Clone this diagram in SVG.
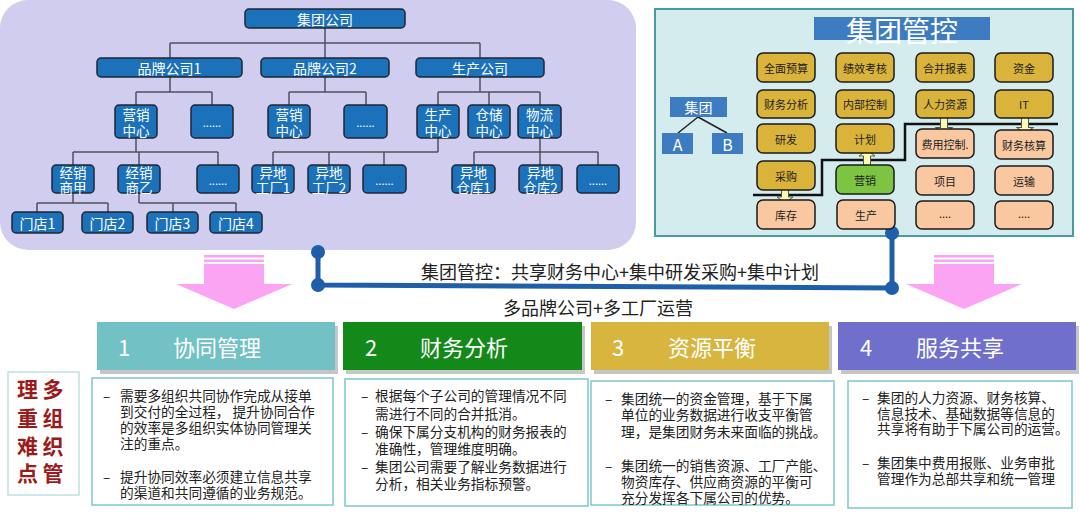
<svg xmlns="http://www.w3.org/2000/svg" width="1080" height="514" viewBox="0 0 1080 514">
<style>
text{font-family:"Noto Sans CJK SC","Noto Sans",sans-serif;}
.n rect{fill:#1b72bb;stroke:#1e2733;stroke-width:1.5;}
.n text{fill:#fff;font-size:14px;text-anchor:middle;dominant-baseline:central;}
.n text.t{font-size:13.5px;}
.n text.d{font-size:11px;}
.c{stroke:#4c5060;stroke-width:1.5;fill:none;}
.k rect{stroke:#1a1a1a;stroke-width:1.5;}
.k text{font-size:11px;fill:#222;text-anchor:middle;dominant-baseline:central;}
.gd rect{fill:#dab33b;}
.pc rect{fill:#f9c8a1;}
.gr rect{fill:#7cc442;}
.sb rect{fill:#3d7cc1;}
.sb text{fill:#fff;text-anchor:middle;dominant-baseline:central;}
.hd text{fill:#fff;font-size:22px;dominant-baseline:central;}
.sh{fill:#c6c6c6;}
.bd rect{fill:#fff;stroke:#7cc8cc;stroke-width:1.5;}
.bd text{font-size:13.7px;fill:#222;dominant-baseline:central;}
.mid{font-size:18px;fill:#222;text-anchor:middle;dominant-baseline:central;}
.pk{fill:#fca4f4;}
.bl{stroke:#1f5ea8;stroke-width:5;fill:none;}
.dot{fill:#1f5ea8;}
.da{fill:#fdfdb0;stroke:#555;stroke-width:1;}
</style>
<defs>
<path id="dbl" d="M0,-11 L8,-5 L3.5,-5 L3.5,5 L8,5 L0,11 L-8,5 L-3.5,5 L-3.5,-5 L-8,-5 Z"/>
</defs>

<!-- panels -->
<rect x="0" y="0" width="636" height="250" rx="28" fill="#d0cdef"/>
<rect x="655" y="9" width="418" height="227" fill="#d5ecef" stroke="#4a9ba0" stroke-width="2"/>

<!-- connectors -->
<g id="connectors">
<path class="c" d="M325 28V43M170 43H480M170 43V58M325 43V58M480 43V58
M170 77V92M136 92H212M136 92V105M212 92V105
M325 77V92M289 92H366M289 92V105M366 92V105
M480 77V92M438 92H540M438 92V105M489 92V105M540 92V105
M136 138V152M73 152H218M73 152V165M139 152V165M218 152V165
M438 138V152M273 152H438M273 152V165M329 152V165M384 152V165
M540 138V165M474 152H598M474 152V165M598 152V165
M73 193V203M37 203H108M37 203V212M108 203V212
M139 193V203M139 203H236M173 203V212M236 203V212"/>
<path d="M698 117L678 133M698 117L727 133" stroke="#222" stroke-width="1.5" fill="none"/>
<polyline points="753,195 822,195 822,160 905,160 905,124 1058,124" fill="none" stroke="#111" stroke-width="2.5"/>
<use href="#dbl" class="da" transform="translate(785,192)"/>
<use href="#dbl" class="da" transform="translate(867,161)"/>
<use href="#dbl" class="da" transform="translate(944,122) scale(1,1.1)"/>
<use href="#dbl" class="da" transform="translate(1025,122) scale(1,1.1)"/>
<path class="bl" d="M318 252V285L892 288V233"/>
<circle class="dot" cx="318" cy="252" r="7"/>
<circle class="dot" cx="318" cy="285" r="7"/>
<circle class="dot" cx="892" cy="288" r="7"/>
<circle class="dot" cx="892" cy="233" r="7"/>
</g>

<!-- org chart nodes -->
<g id="n-jtgs" class="n"><rect x="245" y="9" width="160" height="19" rx="4"/><text x="325" y="18.5">集团公司</text></g>
<g id="n-pp1" class="n"><rect x="97" y="58" width="145" height="19" rx="4"/><text x="169.5" y="67.5">品牌公司1</text></g>
<g id="n-pp2" class="n"><rect x="261" y="58" width="128" height="19" rx="4"/><text x="325" y="67.5">品牌公司2</text></g>
<g id="n-scgs" class="n"><rect x="416" y="58" width="128" height="19" rx="4"/><text x="480" y="67.5">生产公司</text></g>

<g id="n-yx1" class="n"><rect x="115" y="105" width="42" height="33" rx="4"/><text class="t" x="136" y="114">营销<tspan x="136" dy="15.5">中心</tspan></text></g>
<g id="n-d1" class="n"><rect x="191" y="105" width="42" height="33" rx="4"/><text class="d" x="212" y="122">......</text></g>
<g id="n-yx2" class="n"><rect x="268" y="105" width="42" height="33" rx="4"/><text class="t" x="289" y="114">营销<tspan x="289" dy="15.5">中心</tspan></text></g>
<g id="n-d2" class="n"><rect x="344" y="105" width="43" height="33" rx="4"/><text class="d" x="365.5" y="122">......</text></g>
<g id="n-sczx" class="n"><rect x="417" y="105" width="42" height="33" rx="4"/><text class="t" x="438" y="114">生产<tspan x="438" dy="15.5">中心</tspan></text></g>
<g id="n-cczx" class="n"><rect x="468" y="105" width="42" height="33" rx="4"/><text class="t" x="489" y="114">仓储<tspan x="489" dy="15.5">中心</tspan></text></g>
<g id="n-wlzx" class="n"><rect x="518" y="105" width="43" height="33" rx="4"/><text class="t" x="539.5" y="114">物流<tspan x="539.5" dy="15.5">中心</tspan></text></g>

<g id="n-jxj" class="n"><rect x="52" y="165" width="42" height="28" rx="4"/><text class="t" x="73" y="172">经销<tspan x="73" dy="15">商甲</tspan></text></g>
<g id="n-jxy" class="n"><rect x="118" y="165" width="42" height="28" rx="4"/><text class="t" x="139" y="172">经销<tspan x="139" dy="15">商乙</tspan></text></g>
<g id="n-d3" class="n"><rect x="197" y="165" width="42" height="28" rx="4"/><text class="d" x="218" y="180">......</text></g>
<g id="n-gc1" class="n"><rect x="252" y="165" width="42" height="28" rx="4"/><text class="t" x="273" y="172">异地<tspan x="273" dy="15">工厂1</tspan></text></g>
<g id="n-gc2" class="n"><rect x="308" y="165" width="42" height="28" rx="4"/><text class="t" x="329" y="172">异地<tspan x="329" dy="15">工厂2</tspan></text></g>
<g id="n-d4" class="n"><rect x="363" y="165" width="43" height="28" rx="4"/><text class="d" x="384.5" y="180">......</text></g>
<g id="n-ck1" class="n"><rect x="452" y="165" width="43" height="28" rx="4"/><text class="t" x="473.5" y="172">异地<tspan x="473.5" dy="15">仓库1</tspan></text></g>
<g id="n-ck2" class="n"><rect x="519" y="165" width="43" height="28" rx="4"/><text class="t" x="540.5" y="172">异地<tspan x="540.5" dy="15">仓库2</tspan></text></g>
<g id="n-d5" class="n"><rect x="577" y="165" width="42" height="28" rx="4"/><text class="d" x="598" y="180">......</text></g>

<g id="n-md1" class="n"><rect x="12" y="212" width="51" height="21" rx="4"/><text x="37.5" y="222.5">门店1</text></g>
<g id="n-md2" class="n"><rect x="82" y="212" width="51" height="21" rx="4"/><text x="107.5" y="222.5">门店2</text></g>
<g id="n-md3" class="n"><rect x="147" y="212" width="51" height="21" rx="4"/><text x="172.5" y="222.5">门店3</text></g>
<g id="n-md4" class="n"><rect x="210" y="212" width="52" height="21" rx="4"/><text x="236" y="222.5">门店4</text></g>

<!-- right panel -->
<g id="n-title" class="sb"><rect x="814" y="17" width="176" height="23"/><text x="902" y="30" font-size="28">集团管控</text></g>
<g id="n-jt" class="sb"><rect x="670" y="97" width="57" height="20"/><text x="698.5" y="107" font-size="14">集团</text></g>
<g id="n-a" class="sb"><rect x="662" y="133" width="31" height="21"/><text x="677.5" y="143.5" font-size="16">A</text></g>
<g id="n-b" class="sb"><rect x="712" y="133" width="31" height="21"/><text x="727.5" y="143.5" font-size="16">B</text></g>

<g id="k-qmys" class="k gd"><rect x="757" y="53" width="58" height="29" rx="6"/><text x="786" y="67.5">全面预算</text></g>
<g id="k-cwfx" class="k gd"><rect x="757" y="90" width="58" height="28" rx="6"/><text x="786" y="104">财务分析</text></g>
<g id="k-yf" class="k gd"><rect x="757" y="124" width="58" height="29" rx="6"/><text x="786" y="138.5">研发</text></g>
<g id="k-cg" class="k gd"><rect x="757" y="161" width="58" height="29" rx="6"/><text x="786" y="175.5">采购</text></g>
<g id="k-kc" class="k pc"><rect x="757" y="200" width="58" height="29" rx="6"/><text x="786" y="214.5">库存</text></g>

<g id="k-jxkh" class="k gd"><rect x="836" y="53" width="58" height="29" rx="6"/><text x="865" y="67.5">绩效考核</text></g>
<g id="k-nbkz" class="k gd"><rect x="836" y="90" width="58" height="28" rx="6"/><text x="865" y="104">内部控制</text></g>
<g id="k-jh" class="k gd"><rect x="836" y="124" width="58" height="29" rx="6"/><text x="865" y="138.5">计划</text></g>
<g id="k-yx" class="k gr"><rect x="836" y="165" width="58" height="29" rx="6"/><text x="865" y="179.5">营销</text></g>
<g id="k-sc" class="k pc"><rect x="837" y="200" width="58" height="29" rx="6"/><text x="866" y="214.5">生产</text></g>

<g id="k-hbbb" class="k gd"><rect x="916" y="53" width="58" height="29" rx="6"/><text x="945" y="67.5">合并报表</text></g>
<g id="k-rlzy" class="k gd"><rect x="916" y="90" width="58" height="28" rx="6"/><text x="945" y="104">人力资源</text></g>
<g id="k-fykz" class="k pc"><rect x="916" y="129" width="58" height="29" rx="6"/><text x="945" y="143.5">费用控制.</text></g>
<g id="k-xm" class="k pc"><rect x="916" y="166" width="58" height="29" rx="6"/><text x="945" y="180.5">项目</text></g>
<g id="k-e1" class="k pc"><rect x="916" y="201" width="58" height="28" rx="6"/><text x="945" y="213">....</text></g>

<g id="k-zj" class="k gd"><rect x="995" y="53" width="58" height="29" rx="6"/><text x="1024" y="67.5">资金</text></g>
<g id="k-it" class="k gd"><rect x="995" y="90" width="58" height="28" rx="6"/><text x="1024" y="104">IT</text></g>
<g id="k-cwhs" class="k pc"><rect x="995" y="130" width="58" height="29" rx="6"/><text x="1024" y="144.5">财务核算</text></g>
<g id="k-ys" class="k pc"><rect x="995" y="166" width="58" height="29" rx="6"/><text x="1024" y="180.5">运输</text></g>
<g id="k-e2" class="k pc"><rect x="995" y="201" width="58" height="28" rx="6"/><text x="1024" y="213">....</text></g>

<!-- pink arrows -->
<g id="arrow-left" class="pk">
<rect x="204" y="255" width="60" height="2.5"/><rect x="204" y="259.5" width="60" height="2.5"/>
<path d="M204 264H264V284H292L234 309L176 284H204Z"/>
</g>
<g id="arrow-right" class="pk">
<rect x="934" y="255" width="60" height="2.5"/><rect x="934" y="259.5" width="60" height="2.5"/>
<path d="M934 264H994V284H1022L964 309L906 284H934Z"/>
</g>

<text class="mid" x="620" y="271">集团管控：共享财务中心+集中研发采购+集中计划</text>
<text class="mid" x="598" y="307">多品牌公司+多工厂运营</text>

<!-- left label -->
<g id="n-label">
<rect x="8" y="372" width="71" height="123" fill="#fff" stroke="#bfe0e0" stroke-width="1.5"/>
<g font-size="21" font-weight="bold" fill="#9b1b1b" text-anchor="middle" dominant-baseline="central">
<text x="27.5" y="388">理</text><text x="53" y="388">多</text>
<text x="27.5" y="417">重</text><text x="53" y="417">组</text>
<text x="27.5" y="445">难</text><text x="53" y="445">织</text>
<text x="27.5" y="472">点</text><text x="53" y="472">管</text>
</g>
</g>

<!-- card headers -->
<g id="h1" class="hd"><rect class="sh" x="100" y="326" width="238" height="48"/><rect x="97" y="322" width="238" height="48" fill="#72c1c5"/><text x="118" y="346">1</text><text x="173" y="346">协同管理</text></g>
<g id="h2" class="hd"><rect class="sh" x="346" y="326" width="239" height="48"/><rect x="343" y="322" width="239" height="48" fill="#13891a"/><text x="365" y="346">2</text><text x="420" y="346">财务分析</text></g>
<g id="h3" class="hd"><rect class="sh" x="594" y="326" width="238" height="48"/><rect x="591" y="322" width="238" height="48" fill="#d8b53e"/><text x="612" y="346">3</text><text x="668" y="346">资源平衡</text></g>
<g id="h4" class="hd"><rect class="sh" x="841" y="326" width="238" height="48"/><rect x="838" y="322" width="238" height="48" fill="#7070cc"/><text x="860" y="346">4</text><text x="916" y="346">服务共享</text></g>

<!-- card bodies -->
<g id="b1" class="bd"><rect x="92" y="378" width="241" height="127"/>
<text x="103" y="395">–</text><text x="120" y="395">需要多组织共同协作完成从接单</text>
<text x="120" y="411">到交付的全过程， 提升协同合作</text>
<text x="120" y="427">的效率是多组织实体协同管理关</text>
<text x="120" y="443">注的重点。</text>
<text x="103" y="476">–</text><text x="120" y="476">提升协同效率必须建立信息共享</text>
<text x="120" y="492">的渠道和共同遵循的业务规范。</text>
</g>
<g id="b2" class="bd"><rect x="345" y="379" width="243" height="127"/>
<text x="361" y="395">–</text><text x="375" y="395">根据每个子公司的管理情况不同</text>
<text x="375" y="413">需进行不同的合并抵消。</text>
<text x="361" y="431">–</text><text x="375" y="431">确保下属分支机构的财务报表的</text>
<text x="375" y="448">准确性，管理维度明确。</text>
<text x="361" y="466">–</text><text x="375" y="466">集团公司需要了解业务数据进行</text>
<text x="375" y="483">分析，相关业务指标预警。</text>
</g>
<g id="b3" class="bd"><rect x="591" y="381" width="243" height="124"/>
<text x="605" y="398">–</text><text x="621" y="398">集团统一的资金管理，基于下属</text>
<text x="621" y="414">单位的业务数据进行收支平衡管</text>
<text x="621" y="431">理，是集团财务未来面临的挑战。</text>
<text x="605" y="465">–</text><text x="621" y="465">集团统一的销售资源、工厂产能、</text>
<text x="621" y="481">物资库存、供应商资源的平衡可</text>
<text x="621" y="497">充分发挥各下属公司的优势。</text>
</g>
<g id="b4" class="bd"><rect x="848" y="381" width="224" height="127"/>
<text x="862" y="397">–</text><text x="877" y="397">集团的人力资源、财务核算、</text>
<text x="877" y="413">信息技术、基础数据等信息的</text>
<text x="877" y="428">共享将有助于下属公司的运营。</text>
<text x="862" y="462">–</text><text x="877" y="462">集团集中费用报账、业务审批</text>
<text x="877" y="478">管理作为总部共享和统一管理</text>
</g>
</svg>
